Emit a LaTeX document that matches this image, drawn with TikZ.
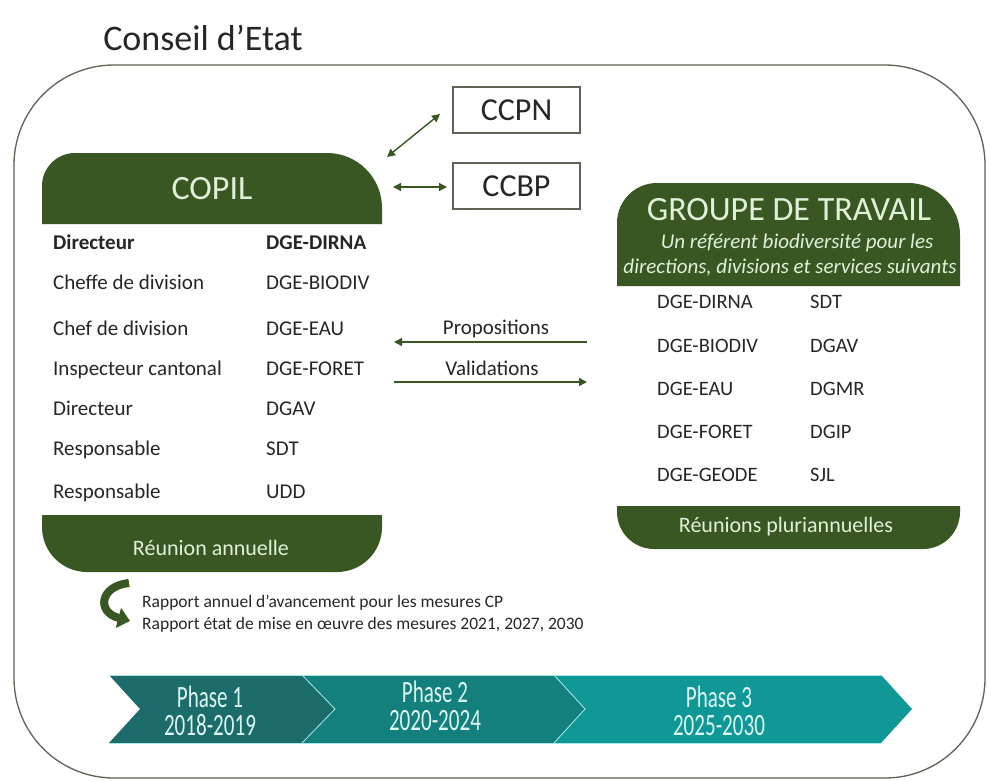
\documentclass[tikz,border=0pt]{standalone}
\usepackage{fontspec}
\setmainfont{Carlito}
\newfontfamily\condfont[FakeStretch=0.68]{Carlito}
\usetikzlibrary{arrows.meta}
\definecolor{cgreen}{RGB}{56,87,35}
\definecolor{clight}{RGB}{226,240,217}
\definecolor{framec}{RGB}{95,98,85}
\definecolor{tealA}{RGB}{27,108,106}
\definecolor{tealB}{RGB}{19,128,126}
\definecolor{tealC}{RGB}{16,152,151}
\definecolor{ptext}{RGB}{220,246,241}
\definecolor{pline}{RGB}{170,232,232}
\definecolor{txt}{RGB}{38,38,38}
\tikzset{
  cell/.style={anchor=west, inner sep=0pt, text height=0.72em, text depth=0.22em, text=txt, font=\fontsize{21}{24}\selectfont},
  rcell/.style={cell, font=\fontsize{20.5}{24}\selectfont},
  headtxt/.style={inner sep=0pt, text=clight, font=\fontsize{34}{38}\selectfont},
  subtxt/.style={inner sep=0pt, text=clight, font=\fontsize{21}{24}\selectfont\itshape},
  bandtxt/.style={inner sep=0pt, text=clight, font=\fontsize{22}{24}\selectfont},
  cbox/.style={draw=framec, line width=1.2pt, minimum width=127pt, minimum height=46pt, inner sep=0pt, text=txt, font=\fontsize{32}{36}\selectfont},
  garrow/.style={cgreen, line width=1.4pt},
  gtip/.tip={Triangle[length=8pt,width=8pt]},
  lbl/.style={inner sep=0pt, text=txt, font=\fontsize{21}{24}\selectfont},
  phasetxt/.style={align=center, inner sep=0pt, text=ptext, font=\condfont\fontsize{31}{28}\selectfont},
  chev/.style={draw=pline, line width=0.8pt}
}
\begin{document}
\begin{tikzpicture}[x=1pt,y=-1pt]
\useasboundingbox (0,0) rectangle (987,781);
\fill[white] (0,0) rectangle (987,781);

% title
\node[inner sep=0pt, text=txt, font=\fontsize{36}{40}\selectfont] (title) at (203,38) {Conseil d’Etat};

% frame
\draw[framec, line width=1.3pt, rounded corners=100pt] (14,65) rectangle (985,778);

% COPIL header
\fill[cgreen] (42,224) -- (42,186) .. controls (42,167.8) and (56.8,153) .. (75,153) -- (327,153) .. controls (357.4,153) and (382,177.6) .. (382,208) -- (382,224) -- cycle;
\node[headtxt] (copil) at (212,189) {COPIL};

% COPIL table
\node[cell, font=\fontsize{21}{24}\selectfont\bfseries] (a1) at (53,247) {Directeur};
\node[cell] (a2) at (53,287) {Cheffe de division};
\node[cell] (a3) at (53,333) {Chef de division};
\node[cell] (a4) at (53,373) {Inspecteur cantonal};
\node[cell] (a5) at (53,413) {Directeur};
\node[cell] (a6) at (53,453) {Responsable};
\node[cell] (a7) at (53,496) {Responsable};
\node[cell, font=\fontsize{21}{24}\selectfont\bfseries] (b1) at (266,247) {DGE-DIRNA};
\node[cell] (b2) at (266,287) {DGE-BIODIV};
\node[cell] (b3) at (266,333) {DGE-EAU};
\node[cell] (b4) at (266,373) {DGE-FORET};
\node[cell] (b5) at (266,413) {DGAV};
\node[cell] (b6) at (266,453) {SDT};
\node[cell] (b7) at (266,496) {UDD};

% COPIL band
\fill[cgreen] (42,515) -- (382,515) -- (382,527) .. controls (382,551.9) and (361.9,572) .. (337,572) -- (87,572) .. controls (62.1,572) and (42,551.9) .. (42,527) -- cycle;
\node[bandtxt] (annuelle) at (211,548) {Réunion annuelle};

% CCPN / CCBP
\node[cbox] (ccpn) at (516.5,110) {CCPN};
\node[cbox] (ccbp) at (516.5,186) {CCBP};
\coordinate (p1) at (387,157);
\coordinate (p2) at (440,114);
\coordinate (q1) at (393,187);
\coordinate (q2) at (447,187);
\draw[garrow, gtip-gtip] (p1) -- (p2);
\draw[garrow, gtip-gtip] (q1) -- (q2);

% Groupe de travail header
\fill[cgreen] (617,286) -- (617,223) .. controls (617,200.9) and (634.9,183) .. (657,183) -- (908,183) .. controls (936.7,183) and (960,206.3) .. (960,235) -- (960,286) -- cycle;
\node[headtxt] (gt) at (789,210) {GROUPE DE TRAVAIL};
\node[subtxt] (gt1) at (797,243) {Un référent biodiversité pour les};
\node[subtxt] (gt2) at (790,268) {directions, divisions et services suivants};

% GT table
\node[rcell] (c1) at (657,306) {DGE-DIRNA};
\node[rcell] (c2) at (657,350) {DGE-BIODIV};
\node[rcell] (c3) at (657,393) {DGE-EAU};
\node[rcell] (c4) at (657,436) {DGE-FORET};
\node[rcell] (c5) at (657,479) {DGE-GEODE};
\node[rcell] (d1) at (810,306) {SDT};
\node[rcell] (d2) at (810,350) {DGAV};
\node[rcell] (d3) at (810,393) {DGMR};
\node[rcell] (d4) at (810,436) {DGIP};
\node[rcell] (d5) at (810,479) {SJL};

% GT band
\fill[cgreen] (617,506) -- (960,506) -- (960,512) .. controls (960,532.4) and (943.4,549) .. (923,549) -- (654,549) .. controls (633.6,549) and (617,532.4) .. (617,512) -- cycle;
\node[bandtxt] (plur) at (786,527) {Réunions pluriannuelles};

% Propositions / Validations
\coordinate (r1) at (587,342);
\coordinate (r2) at (394,342);
\coordinate (s1) at (394,382);
\coordinate (s2) at (587,382);
\draw[garrow, -gtip] (r1) -- (r2);
\draw[garrow, -gtip] (s1) -- (s2);
\node[lbl] (prop) at (496,329) {Propositions};
\node[lbl] (valid) at (492,368) {Validations};

% curved arrow and report text
\coordinate (u1) at (129,583);
\coordinate (u2) at (130,621);
\draw[cgreen, line width=8pt, -{Triangle[length=12pt,width=20pt]}] (u1) .. controls (100,586) and (96,612) .. (u2);
\node[anchor=west, inner sep=0pt, text=txt, font=\fontsize{17.5}{20}\selectfont] (rap1) at (142,603) {Rapport annuel d’avancement pour les mesures CP};
\node[anchor=west, inner sep=0pt, text=txt, font=\fontsize{17.5}{20}\selectfont] (rap2) at (142,625) {Rapport état de mise en œuvre des mesures 2021, 2027, 2030};

% phases
\fill[tealA] (109,675) -- (302,675) -- (335,709) -- (302,743) -- (109,743) -- (140,709) -- cycle;
\fill[tealB] (302,675) -- (554,675) -- (585,709) -- (554,743) -- (302,743) -- (335,709) -- cycle;
\fill[tealC] (554,675) -- (881,675) -- (912,709) -- (881,743) -- (554,743) -- (585,709) -- cycle;
\draw[chev] (302,675) -- (335,709) -- (302,743);
\draw[chev] (554,675) -- (585,709) -- (554,743);
\draw[chev] (109,675) -- (881,675);
\draw[chev] (109,743) -- (881,743);
\node[phasetxt] (ph1) at (210,711) {Phase 1\\2018-2019};
\node[phasetxt] (ph2) at (435,706) {Phase 2\\2020-2024};
\node[phasetxt] (ph3) at (719,711) {Phase 3\\2025-2030};
\end{tikzpicture}
\end{document}
